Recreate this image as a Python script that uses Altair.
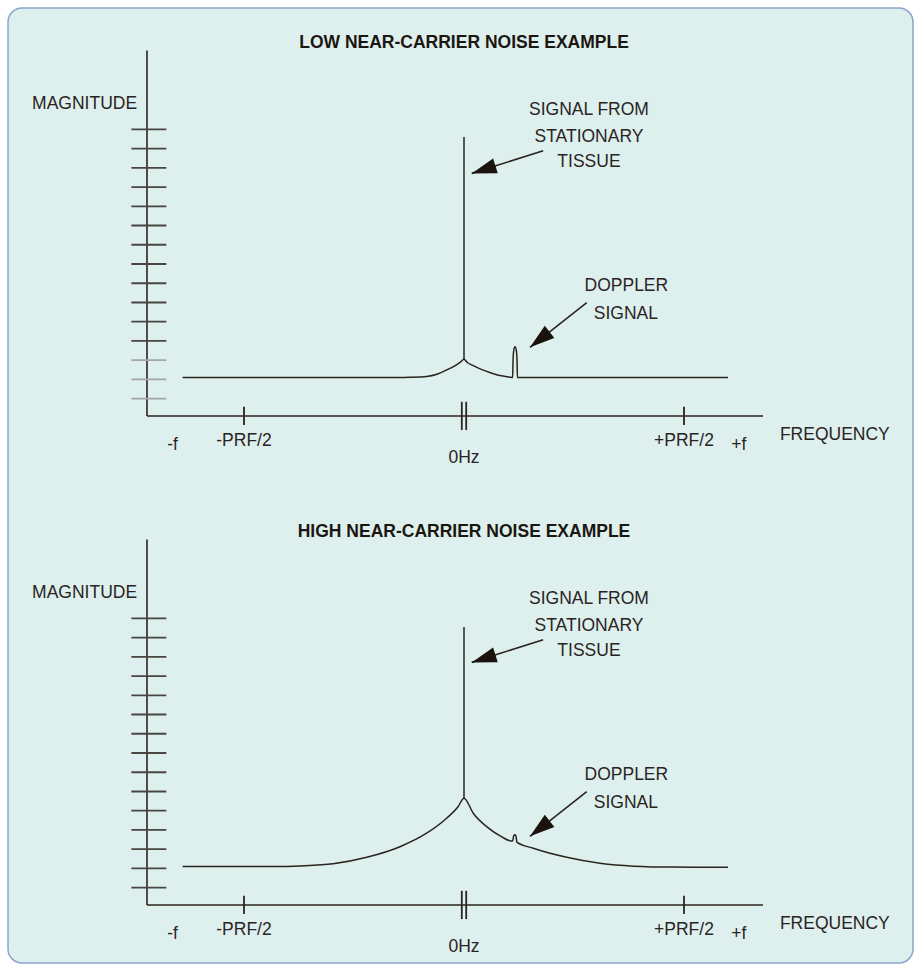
import math
import altair as alt
import pandas as pd

# ---------------- data (frequency in units of PRF/2, magnitude in tick units) ----------------
panel_titles = ["LOW NEAR-CARRIER NOISE EXAMPLE", "HIGH NEAR-CARRIER NOISE EXAMPLE"]

low_f = [-1.279, -0.6, -0.3, -0.245, -0.17, -0.12, -0.079, -0.04, -0.015, 0.0,
         0.015, 0.04, 0.073, 0.12, 0.164, 0.209, 0.221,
         0.223, 0.226, 0.232, 0.238, 0.241, 0.243, 0.3, 0.6, 1.2]
low_m = [2.0, 2.0, 2.0, 2.01, 2.05, 2.18, 2.39, 2.62, 2.81, 2.95,
         2.78, 2.63, 2.45, 2.25, 2.1, 2.02, 2.0,
         2.9, 3.4, 3.6, 3.4, 2.9, 2.0, 2.0, 2.0, 2.0]

high_f = [-1.279, -1.0, -0.85, -0.745, -0.595, -0.442, -0.291, -0.17, -0.079, -0.027, 0.0,
          0.042, 0.103, 0.17, 0.215, 0.221, 0.226, 0.232, 0.237, 0.24,
          0.315, 0.467, 0.618, 0.77, 0.95, 1.2]
high_m = [2.0, 2.0, 2.0, 2.03, 2.14, 2.48, 3.03, 3.73, 4.51, 5.11, 5.55,
          4.77, 4.07, 3.55, 3.33, 3.33, 3.6, 3.65, 3.55, 3.27,
          2.95, 2.48, 2.17, 2.02, 1.97, 1.96]

cusp_mag = [2.95, 5.55]
spike_top = [14.5, 14.45]

mag_ticks = [0.9, 1.9, 2.9, 3.9, 4.9, 5.9, 6.9, 7.9, 8.9, 9.9, 10.9, 11.9, 12.9, 13.9, 14.9]
low_tick_tone = ["faded", "faded", "faded"] + ["normal"] * 12
high_tick_tone = ["normal"] * 15

freq_ticks = [-1.0, 1.0]
zero_tick_pair = [-0.01, 0.01]

axis_left_f = -1.441
axis_right_f = 1.359
axis_top_mag = 19.0
mag_tick_from = -1.512
mag_tick_to = -1.353

center_labels = ["-f", "-PRF/2", "0Hz", "+PRF/2", "+f"]
center_label_f = [-1.325, -1.0, 0.0, 1.0, 1.249]
center_label_m = [-1.5, -1.3, -2.18, -1.3, -1.5]

note_labels = ["SIGNAL FROM", "STATIONARY", "TISSUE", "DOPPLER", "SIGNAL"]
note_f = [0.568, 0.568, 0.568, 0.738, 0.736]
note_m = [15.89, 14.52, 13.22, 6.77, 5.30]

arrow_tail_f = [0.360, 0.558]
arrow_tail_m = [13.79, 5.89]
arrow_tip_f = [0.035, 0.300]
arrow_tip_m = [12.61, 3.57]

# ---------------- layout constants ----------------
W, H = 905, 955
PX_F = 220.0          # pixels per PRF/2
PX_M = 19.24          # pixels per magnitude tick
X0 = 456.0            # pixel of 0 Hz inside the view
Y0 = 408.0            # pixel of top-panel baseline inside the view
PANEL_SHIFT = 489.0 / PX_M

xscale = alt.Scale(domain=[-X0 / PX_F, (W - X0) / PX_F], nice=False, zero=False)
yscale = alt.Scale(domain=[(Y0 - H) / PX_M, Y0 / PX_M], nice=False, zero=False)

INK = "#2b241e"
FONT = "Liberation Sans, Arial, sans-serif"
FS = 17.5

def gy(m, p):
    return m - p * PANEL_SHIFT

curves, spikes, vlines, hlines, mticks, fticks = [], [], [], [], [], []
zticks, texts_c, texts_l, texts_r, titles, arrows = [], [], [], [], [], []

for p, (cf, cm, tones) in enumerate([(low_f, low_m, low_tick_tone), (high_f, high_m, high_tick_tone)]):
    for i, (f, m) in enumerate(zip(cf, cm)):
        curves.append({"panel": p, "i": i, "f": f, "y": gy(m, p)})
    spikes.append({"f": 0.0, "y": gy(cusp_mag[p], p), "y2": gy(spike_top[p], p)})
    vlines.append({"f": axis_left_f, "y": gy(0, p), "y2": gy(axis_top_mag, p)})
    hlines.append({"f": axis_left_f, "f2": axis_right_f, "y": gy(0, p)})
    for t, tone in zip(mag_ticks, tones):
        mticks.append({"f": mag_tick_from, "f2": mag_tick_to, "y": gy(t, p), "tone": tone})
    for t in freq_ticks:
        fticks.append({"f": t, "y": gy(0.48, p), "y2": gy(-0.47, p)})
    for t in zero_tick_pair:
        zticks.append({"f": t, "y": gy(0.74, p), "y2": gy(-0.73, p)})
    for s, f, m in zip(center_labels, center_label_f, center_label_m):
        texts_c.append({"text": s, "f": f, "y": gy(m, p)})
    for s, f, m in zip(note_labels, note_f, note_m):
        texts_c.append({"text": s, "f": f, "y": gy(m, p)})
    texts_l.append({"text": "FREQUENCY", "f": 1.436, "y": gy(-0.98, p)})
    texts_r.append({"text": "MAGNITUDE", "f": -1.486, "y": gy(16.21, p)})
    titles.append({"text": panel_titles[p], "f": 0.0, "y": gy(19.38, p)})
    for tf, tm, hf, hm in zip(arrow_tail_f, arrow_tail_m, arrow_tip_f, arrow_tip_m):
        dx = (hf - tf) * PX_F
        dy = -(hm - tm) * PX_M
        ang = math.degrees(math.atan2(dx, -dy)) % 360
        arrows.append({"f": tf, "y": gy(tm, p), "f2": hf, "y2": gy(hm, p), "angle": ang})

X = lambda fld="f": alt.X(f"{fld}:Q", scale=xscale, axis=None)
Y = lambda fld="y": alt.Y(f"{fld}:Q", scale=yscale, axis=None)

curve_layer = alt.Chart(pd.DataFrame(curves)).mark_line(
    color=INK, strokeWidth=1.5, interpolate="monotone"
).encode(x=X(), y=Y(), detail="panel:N", order="i:Q")

spike_layer = alt.Chart(pd.DataFrame(spikes)).mark_rule(color=INK, strokeWidth=1.5).encode(
    x=X(), y=Y(), y2="y2:Q")
vline_layer = alt.Chart(pd.DataFrame(vlines)).mark_rule(color=INK, strokeWidth=1.6).encode(
    x=X(), y=Y(), y2="y2:Q")
hline_layer = alt.Chart(pd.DataFrame(hlines)).mark_rule(color=INK, strokeWidth=1.6).encode(
    x=X(), x2="f2:Q", y=Y())
mtick_layer = alt.Chart(pd.DataFrame(mticks)).mark_rule(strokeWidth=1.8).encode(
    x=X(), x2="f2:Q", y=Y(),
    color=alt.Color("tone:N", scale=alt.Scale(domain=["normal", "faded"], range=["#4a4540", "#a3a6a4"]), legend=None))
ftick_layer = alt.Chart(pd.DataFrame(fticks)).mark_rule(color=INK, strokeWidth=1.8).encode(
    x=X(), y=Y(), y2="y2:Q")
ztick_layer = alt.Chart(pd.DataFrame(zticks)).mark_rule(color=INK, strokeWidth=1.8).encode(
    x=X(), y=Y(), y2="y2:Q")

arrow_df = pd.DataFrame(arrows)
arrow_line = alt.Chart(arrow_df).mark_rule(color=INK, strokeWidth=1.6).encode(
    x=X(), y=Y(), x2="f2:Q", y2="y2:Q")
arrow_head = alt.Chart(arrow_df).mark_point(
    filled=True, shape="M0,0L0.62,2L-0.62,2Z", size=620, color="#1a130d", opacity=1
).encode(x=X("f2"), y=Y("y2"), angle=alt.Angle("angle:Q", scale=None))

txt_c = alt.Chart(pd.DataFrame(texts_c)).mark_text(
    font=FONT, fontSize=FS, color=INK, align="center", baseline="middle"
).encode(x=X(), y=Y(), text="text:N")
txt_l = alt.Chart(pd.DataFrame(texts_l)).mark_text(
    font=FONT, fontSize=FS, color=INK, align="left", baseline="middle"
).encode(x=X(), y=Y(), text="text:N")
txt_r = alt.Chart(pd.DataFrame(texts_r)).mark_text(
    font=FONT, fontSize=FS, color=INK, align="right", baseline="middle"
).encode(x=X(), y=Y(), text="text:N")
txt_t = alt.Chart(pd.DataFrame(titles)).mark_text(
    font=FONT, fontSize=FS, fontWeight="bold", color="#1c1610", align="center", baseline="middle"
).encode(x=X(), y=Y(), text="text:N")

chart = alt.layer(
    vline_layer, hline_layer, mtick_layer, ftick_layer, ztick_layer,
    curve_layer, spike_layer, arrow_line, arrow_head,
    txt_c, txt_l, txt_r, txt_t
).properties(
    width=W, height=H,
    autosize=alt.AutoSizeParams(type="none"),
    padding={"left": 8, "top": 8, "right": 3, "bottom": 4},
    background="white",
).configure_view(
    fill="#ddf0ee", stroke="#8ca5cd", strokeWidth=1.5, cornerRadius=14
)

chart.save("out.html", embed_options={"renderer": "svg", "actions": False})
